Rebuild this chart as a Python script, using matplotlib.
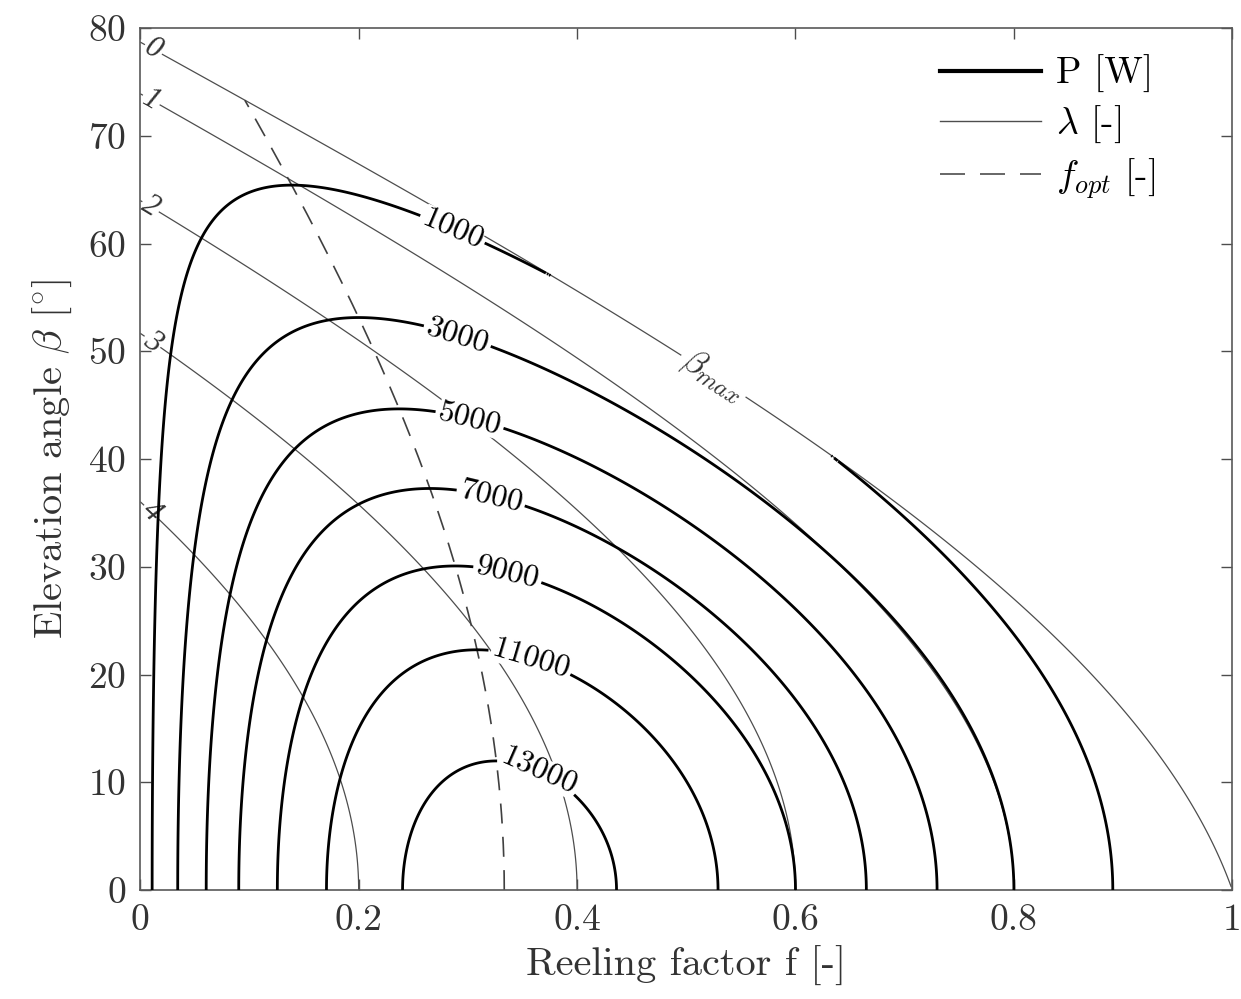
import numpy as np
import matplotlib
matplotlib.use('Agg')
import matplotlib.pyplot as plt
from matplotlib.lines import Line2D

plt.rcParams['font.family'] = 'serif'
plt.rcParams['font.serif'] = ['cmr10']
plt.rcParams['mathtext.fontset'] = 'cm'
plt.rcParams['axes.formatter.use_mathtext'] = True

# model: lambda^2 = G^2 (cos b - f)^2 - sin^2 b,  P = k f (cos b - f)^2
glide_ratio = 5.0
power_scale = 93750.0

power_levels = [1000, 3000, 5000, 7000, 9000, 11000, 13000]
lambda_values = [1, 2, 3, 4]

# where the labels sit (f, beta)
power_label_pos = [(0.285, 61.1), (0.29, 51.3), (0.30, 43.0), (0.32, 36.0),
                   (0.335, 28.8), (0.355, 20.7), (0.36, 10.0)]
lambda_label_pos = [(0.01, 73.3), (0.01, 63.5), (0.01, 50.7), (0.01, 35.1)]
lambda0_label_pos = [(0.012, 78.0)]
beta_max_label_pos = [(0.53, 48.5)]

x_ticks = [0, 0.2, 0.4, 0.6, 0.8, 1.0]
x_tick_labels = ['0', '0.2', '0.4', '0.6', '0.8', '1']
y_ticks = [0, 10, 20, 30, 40, 50, 60, 70, 80]

f = np.linspace(0, 1, 1001)
beta = np.linspace(0, 80, 801)
F, B = np.meshgrid(f, beta)
cb = np.cos(np.radians(B))
sb = np.sin(np.radians(B))
radial = cb - F

lam2 = glide_ratio**2 * radial**2 - sb**2
lam2 = np.where(radial >= 0, lam2, np.nan)
power = power_scale * F * radial**2
power = np.where(lam2 >= 0, power, np.nan)

# optimal reeling factor for each elevation, up to beta_max
beta_opt = beta[glide_ratio * (2.0 / 3.0) * np.cos(np.radians(beta)) >= np.sin(np.radians(beta))]
f_opt = np.cos(np.radians(beta_opt)) / 3.0

fig, ax = plt.subplots(figsize=(12.41, 9.99), dpi=100)
fig.subplots_adjust(left=0.113, right=0.993, bottom=0.109, top=0.972)

lam_cs = ax.contour(F, B, lam2, levels=[v**2 for v in lambda_values],
                    colors='0.3', linewidths=0.9, zorder=1)
lam_txt = lam_cs.clabel(fmt={v**2: str(v) for v in lambda_values}, manual=lambda_label_pos,
                        fontsize=22, inline=True, inline_spacing=2)

lam0_cs = ax.contour(F, B, lam2, levels=[0], colors='0.3', linewidths=0.9, zorder=1)
lam0_txt = list(lam0_cs.clabel(fmt={0: '0'}, manual=lambda0_label_pos,
                               fontsize=22, inline=True, inline_spacing=2))
for t in list(lam_txt) + lam0_txt:
    t.set_family('Liberation Serif')
    t.set_style('italic')
    t.set_color('0.2')
bm_txt = lam0_cs.clabel(fmt={0: r'$\beta_{max}$'}, manual=beta_max_label_pos,
                        fontsize=25, inline=True, inline_spacing=4)
for t in bm_txt:
    t.set_color('0.2')

ax.plot(f_opt, beta_opt, color='0.25', linewidth=1.2, linestyle=(0, (12, 8)), zorder=2)

p_cs = ax.contour(F, B, power, levels=power_levels, colors='k', linewidths=2.0, zorder=3)
p_txt = p_cs.clabel(fmt='%d', manual=power_label_pos, fontsize=23, inline=True,
                    inline_spacing=3)
for t in p_txt:
    t.set_bbox(dict(facecolor='white', edgecolor='none', pad=0))
    t.set_zorder(6)

ax.set_xlim(0, 1)
ax.set_ylim(0, 80)
ax.set_xticks(x_ticks)
ax.set_xticklabels(x_tick_labels)
ax.set_yticks(y_ticks)
ax.tick_params(direction='in', length=8, width=1.0, colors='0.3', labelcolor='0.2',
               labelsize=27, top=True, right=True, pad=10)
for s in ax.spines.values():
    s.set_color('0.35')
    s.set_linewidth(1.2)

ax.set_xlabel('Reeling factor f [-]', fontsize=29, color='0.2', labelpad=6)
ax.set_ylabel(r'Elevation angle $\beta$ $[^{\circ}]$', fontsize=29, color='0.2', labelpad=10)

handles = [Line2D([], [], color='k', linewidth=3.0),
           Line2D([], [], color='0.3', linewidth=1.0),
           Line2D([], [], color='0.3', linewidth=1.2, linestyle=(0, (15, 9)))]
ax.legend(handles, ['P [W]', r'$\lambda$ [-]', r'$f_{opt}$ [-]'], loc='upper left',
          bbox_to_anchor=(0.732, 0.969), frameon=False, fontsize=27, handlelength=2.7,
          handletextpad=0.4, labelspacing=0.3, borderaxespad=0, borderpad=0)

fig.savefig('out.png', dpi=100)
